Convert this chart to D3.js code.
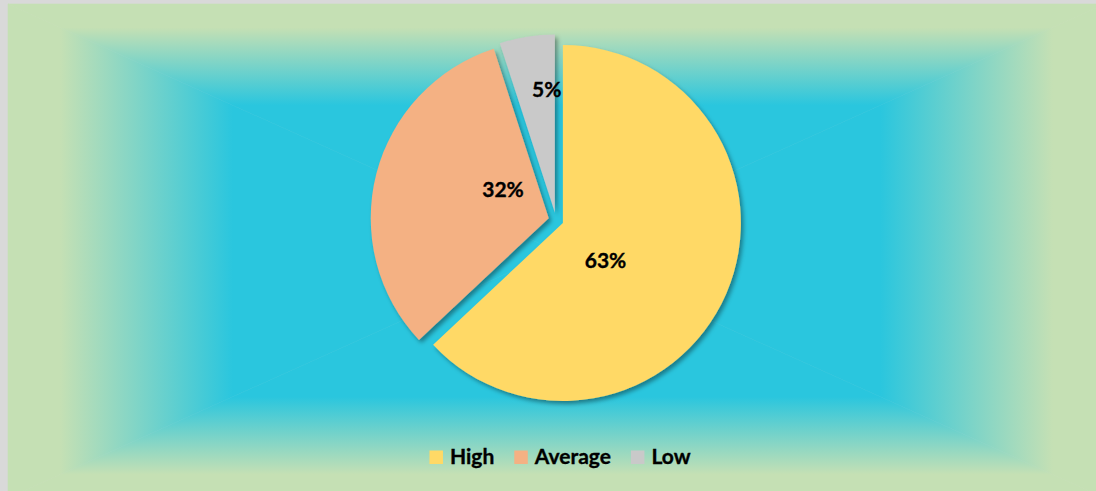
<!DOCTYPE html>
<html>
<head>
<meta charset="utf-8">
<script src="https://cdn.jsdelivr.net/npm/d3@7"></script>
<style>
  html, body { margin: 0; padding: 0; background: #d9d9d9; }
  svg { display: block; }
  text { font-family: Lato, "Open Sans", sans-serif; font-weight: bold; fill: #000; stroke: #000; stroke-width: 0.35px; }
</style>
</head>
<body>
<svg id="chart" width="1096" height="491"></svg>
<script>
// Rating distribution
const categories = ["High", "Average", "Low"];
const values = [63, 32, 5];
const percentLabels = ["63%", "32%", "5%"];
const colors = ["#ffd966", "#f4b183", "#c9c9c9"];

// Label placement inside each slice: [fraction of slice angle, fraction of radius]
const labelPlacement = [[0.58, 0.32], [0.656, 0.304], [0.79, 0.696]];

const W = 1096, H = 491;
const svg = d3.select("#chart");
const defs = svg.append("defs");

// Chart area with a rectangular (centre-out) gradient, built from four triangles
const area = { x: 8, y: 4, w: 1097, h: 494 };
const cx = area.x + area.w / 2, cy = area.y + area.h / 2;
const edgeColor = "#c5e0b4", centerColor = "#2ac6de";

svg.append("rect").attr("x", 0).attr("y", 0).attr("width", W).attr("height", H).attr("fill", "#d9d9d9");

const sides = [
  { id: "gTop",    pts: [[area.x, area.y], [area.x + area.w, area.y], [cx, cy]], g: [cx, area.y, cx, cy] },
  { id: "gBottom", pts: [[area.x, area.y + area.h], [area.x + area.w, area.y + area.h], [cx, cy]], g: [cx, area.y + area.h, cx, cy] },
  { id: "gLeft",   pts: [[area.x, area.y], [area.x, area.y + area.h], [cx, cy]], g: [area.x, cy, cx, cy] },
  { id: "gRight",  pts: [[area.x + area.w, area.y], [area.x + area.w, area.y + area.h], [cx, cy]], g: [area.x + area.w, cy, cx, cy] }
];
sides.forEach(s => {
  const lg = defs.append("linearGradient").attr("id", s.id)
    .attr("gradientUnits", "userSpaceOnUse")
    .attr("x1", s.g[0]).attr("y1", s.g[1]).attr("x2", s.g[2]).attr("y2", s.g[3]);
  lg.append("stop").attr("offset", 0).attr("stop-color", edgeColor);
  lg.append("stop").attr("offset", 0.095).attr("stop-color", edgeColor);
  lg.append("stop").attr("offset", 0.41).attr("stop-color", centerColor);
  lg.append("stop").attr("offset", 1).attr("stop-color", centerColor);
  svg.append("path")
    .attr("d", d3.line()(s.pts) + "Z")
    .attr("fill", `url(#${s.id})`)
    .attr("stroke", `url(#${s.id})`)
    .attr("stroke-width", 0.6);
});

// Soft drop shadow under the slices
const shadow = defs.append("filter").attr("id", "shadow")
  .attr("x", "-20%").attr("y", "-20%").attr("width", "140%").attr("height", "140%");
shadow.append("feDropShadow")
  .attr("dx", 2.5).attr("dy", 3).attr("stdDeviation", 2.2)
  .attr("flood-color", "#000").attr("flood-opacity", 0.38);

// Exploded pie
const pieCx = 556, pieCy = 220, R = 178, explode = 7.5;
const pie = d3.pie().sort(null).value(d => d.value).startAngle(0).endAngle(2 * Math.PI);
const arc = d3.arc().innerRadius(0).outerRadius(R);
const data = categories.map((c, i) => ({ name: c, value: values[i], color: colors[i], label: percentLabels[i], place: labelPlacement[i] }));
const arcs = pie(data);

const gPie = svg.append("g").attr("transform", `translate(${pieCx},${pieCy})`);
const slices = gPie.selectAll("g.slice").data(arcs).join("g")
  .attr("class", "slice")
  .attr("transform", d => {
    const a = (d.startAngle + d.endAngle) / 2;
    return `translate(${explode * Math.sin(a)},${-explode * Math.cos(a)})`;
  });

slices.append("path")
  .attr("d", arc)
  .attr("fill", d => d.data.color)
  .attr("filter", "url(#shadow)");

slices.append("text")
  .attr("text-anchor", "middle")
  .attr("dy", "0.36em")
  .attr("font-size", 21)
  .attr("x", d => {
    const a = d.startAngle + (d.endAngle - d.startAngle) * d.data.place[0];
    return R * d.data.place[1] * Math.sin(a);
  })
  .attr("y", d => {
    const a = d.startAngle + (d.endAngle - d.startAngle) * d.data.place[0];
    return -R * d.data.place[1] * Math.cos(a);
  })
  .text(d => d.data.label);

// Legend, centred under the pie
const legend = svg.append("g");
const sq = 13.5, sqGap = 7, itemGap = 20, legendBaseline = 464, fs = 21;
const items = legend.selectAll("g").data(data).join("g");
items.append("rect")
  .attr("width", sq).attr("height", sq)
  .attr("y", legendBaseline - sq)
  .attr("fill", d => d.color);
items.append("text")
  .attr("x", sq + sqGap)
  .attr("y", legendBaseline)
  .attr("font-size", fs)
  .text(d => d.name);

let xPos = 0;
items.each(function () {
  const g = d3.select(this);
  g.attr("transform", `translate(${xPos},0)`);
  const tw = g.select("text").node().getComputedTextLength();
  xPos += sq + sqGap + tw + itemGap;
});
const legendWidth = xPos - itemGap;
legend.attr("transform", `translate(${560 - legendWidth / 2},0)`);
</script>
</body>
</html>
